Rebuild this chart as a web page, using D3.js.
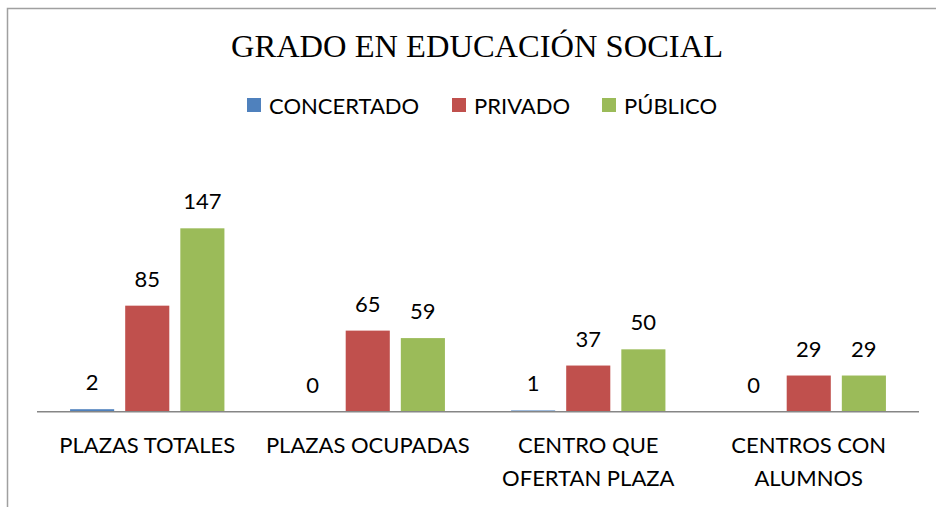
<!DOCTYPE html>
<html>
<head>
  <meta charset="utf-8">
  <script src="https://d3js.org/d3.v7.min.js"></script>
  <style>
    body { margin: 0; background: #fff; }
    .label { font-family: Lato, 'Open Sans', sans-serif; font-size: 22px; fill: #000; }
    .title { font-family: 'Liberation Serif', serif; font-size: 32.5px; fill: #000; }
  </style>
</head>
<body>
  <svg id="chart" width="936" height="507"></svg>
  <script>
    var categories = [['PLAZAS TOTALES'], ['PLAZAS OCUPADAS'], ['CENTRO QUE', 'OFERTAN PLAZA'], ['CENTROS CON', 'ALUMNOS']];
    var seriesNames = ['CONCERTADO', 'PRIVADO', 'PÚBLICO'];
    var concertado = [2, 0, 1, 0];
    var privado = [85, 65, 37, 29];
    var publico = [147, 59, 50, 29];
    var colors = ['#4f81bd', '#c0504d', '#9bbb59'];

    var svg = d3.select('#chart');
    var series = [concertado, privado, publico];
    var catKeys = categories.map((c) => c.join(' '));

    // chart frame runs off the right and bottom edges
    svg.append('rect')
      .attr('x', 7.5).attr('y', 8.5)
      .attr('width', 1000).attr('height', 600)
      .attr('fill', 'none')
      .attr('stroke', '#a0a0a0')
      .attr('stroke-width', 1.5);

    var x = d3.scaleBand().domain(catKeys).range([37, 919]);
    var xs = d3.scaleBand().domain(seriesNames).range([0, x.bandwidth()])
      .paddingInner(0.2).paddingOuter(0.6);
    var y = d3.scaleLinear().domain([0, 160]).range([411.7, 212.1]);

    svg.append('text')
      .attr('class', 'title')
      .attr('x', 477).attr('y', 57)
      .attr('text-anchor', 'middle')
      .text('GRADO EN EDUCACIÓN SOCIAL');

    // legend
    var legendX = [247, 452, 602];
    var legend = svg.selectAll('g.legend').data(seriesNames).join('g')
      .attr('class', 'legend')
      .attr('transform', (d, i) => 'translate(' + legendX[i] + ',98)');
    legend.append('rect')
      .attr('width', 14).attr('height', 14)
      .attr('fill', (d, i) => colors[i]);
    legend.append('text')
      .attr('class', 'label')
      .attr('x', 22).attr('y', 16)
      .text((d) => d);

    // bars
    series.forEach((vals, si) => {
      var g = svg.append('g');
      g.selectAll('rect').data(vals).join('rect')
        .attr('x', (d, i) => x(catKeys[i]) + xs(seriesNames[si]))
        .attr('width', xs.bandwidth())
        .attr('y', (d) => y(d))
        .attr('height', (d) => y(0) - y(d))
        .attr('fill', colors[si]);
      g.selectAll('text').data(vals).join('text')
        .attr('class', 'label')
        .attr('x', (d, i) => x(catKeys[i]) + xs(seriesNames[si]) + xs.bandwidth() / 2)
        .attr('y', (d) => y(d) - 19)
        .attr('text-anchor', 'middle')
        .text((d) => d);
    });

    // baseline axis
    svg.append('line')
      .attr('x1', 37).attr('x2', 919)
      .attr('y1', y(0)).attr('y2', y(0))
      .attr('stroke', '#868686')
      .attr('stroke-width', 1.5);

    // category labels
    categories.forEach((lines, i) => {
      var t = svg.append('text')
        .attr('class', 'label')
        .attr('text-anchor', 'middle');
      lines.forEach((line, k) => {
        t.append('tspan')
          .attr('x', x(catKeys[i]) + x.bandwidth() / 2)
          .attr('y', 453 + k * 32.5)
          .text(line);
      });
    });
  </script>
</body>
</html>
